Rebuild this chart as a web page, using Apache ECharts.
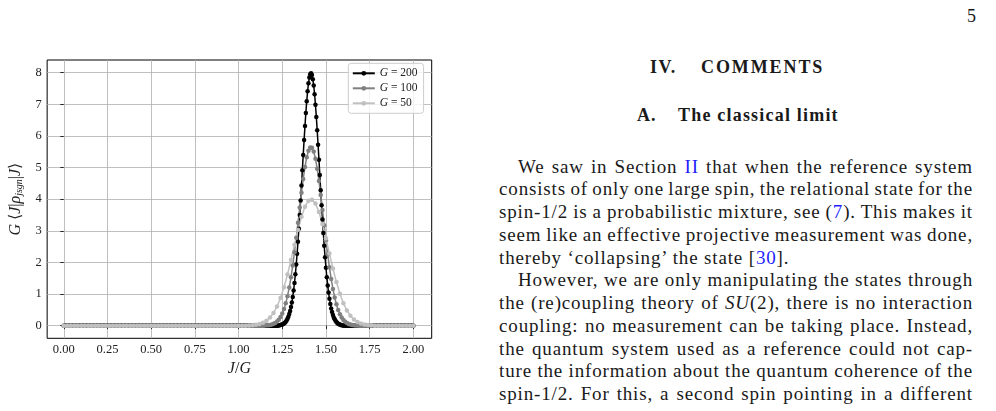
<!DOCTYPE html>
<html>
<head>
<meta charset="utf-8">
<script src="https://cdn.jsdelivr.net/npm/echarts@6/dist/echarts.min.js"></script>
<style>
  html, body { margin: 0; padding: 0; background: #fff; }
  #page { position: relative; width: 996px; height: 411px; overflow: hidden; font-family: "Liberation Serif", serif; color: #1a1a1a; }
  #chart { position: absolute; left: 0; top: 0; width: 460px; height: 411px; }
  .ln { position: absolute; white-space: nowrap; display: inline-block; font-size: 19px; letter-spacing: 0.85px; line-height: 22px; }
  .hd { position: absolute; white-space: nowrap; font-weight: bold; font-size: 18px; line-height: 20px; }
  .ref { color: #1f1fff; }
  i { font-style: italic; }
</style>
</head>
<body>
<div id="page">
  <div id="chart"></div>

  <div class="ln" style="left:967px;top:5px;font-size:18px;letter-spacing:0">5</div>
  <div class="hd" style="left:650px;top:57px;letter-spacing:1.5px;">IV.</div>
  <div class="hd" style="left:701px;top:57px;letter-spacing:1.9px;">COMMENTS</div>
  <div class="hd" style="left:637px;top:105px;letter-spacing:1px;">A.</div>
  <div class="hd" style="left:678px;top:105px;letter-spacing:1.2px;">The classical limit</div>

  <div class="ln j" data-l="518" style="left:518px;top:155.5px;">We saw in Section <span class="ref">II</span> that when the reference system</div>
  <div class="ln j" data-l="499" style="left:499px;top:178.2px;">consists of only one large spin, the relational state for the</div>
  <div class="ln j" data-l="499" style="left:499px;top:201px;">spin-1/2 is a probabilistic mixture, see (<span class="ref">7</span>). This makes it</div>
  <div class="ln j" data-l="499" style="left:499px;top:223.7px;">seem like an effective projective measurement was done,</div>
  <div class="ln" style="left:499px;top:246.5px;">thereby ‘collapsing’ the state [<span class="ref">30</span>].</div>

  <div class="ln j" data-l="518" style="left:518px;top:269.2px;">However, we are only manipulating the states through</div>
  <div class="ln j" data-l="499" style="left:499px;top:292px;">the (re)coupling theory of <i>SU</i>(2), there is no interaction</div>
  <div class="ln j" data-l="499" style="left:499px;top:314.7px;">coupling: no measurement can be taking place. Instead,</div>
  <div class="ln j" data-l="499" style="left:499px;top:337.5px;">the quantum system used as a reference could not cap-</div>
  <div class="ln j" data-l="499" style="left:499px;top:360.2px;">ture the information about the quantum coherence of the</div>
  <div class="ln j" data-l="499" style="left:499px;top:383px;">spin-1/2. For this, a second spin pointing in a different</div>
</div>

<script>
// curve sizes and legend names
const G_LIST = [200, 100, 50];
const NAMES = ['G = 200', 'G = 100', 'G = 50'];

// non-zero part of each curve: value at J = START + i, plotted at J/G
const START_200 = 246;
const PEAK_200 = [
  0.0090, 0.0130, 0.0185, 0.0260, 0.0363, 0.0502, 0.0686, 0.0930, 0.1247, 0.1656,
  0.2176, 0.2831, 0.3649, 0.4653, 0.5878, 0.7349, 0.9096, 1.115, 1.352, 1.625,
  1.932, 2.276, 2.653, 3.062, 3.499, 3.958, 4.434, 4.917, 5.399, 5.868,
  6.315, 6.728, 7.097, 7.412, 7.664, 7.845, 7.951, 7.978, 7.925, 7.795,
  7.590, 7.318, 6.985, 6.600, 6.175, 5.719, 5.245, 4.762, 4.281, 3.809,
  3.357, 2.928, 2.529, 2.162, 1.830, 1.534, 1.273, 1.046, 0.8506, 0.6852,
  0.5460, 0.4309, 0.3367, 0.2605, 0.1996, 0.1514, 0.1136, 0.0845, 0.0622, 0.0453,
  0.0327, 0.0233, 0.0165, 0.0116, 0.0080
];
const START_100 = 115;
const PEAK_100 = [
  0.0052, 0.0088, 0.0145, 0.0234, 0.0370, 0.0574, 0.0872, 0.1299, 0.1896, 0.2713,
  0.3807, 0.5232, 0.705, 0.932, 1.206, 1.531, 1.905, 2.323, 2.777, 3.253,
  3.736, 4.206, 4.641, 5.019, 5.321, 5.529, 5.632, 5.623, 5.503, 5.279,
  4.963, 4.575, 4.132, 3.659, 3.176, 2.702, 2.253, 1.843, 1.476, 1.159,
  0.893, 0.673, 0.498, 0.361, 0.2565, 0.1787, 0.1220, 0.0817, 0.0536, 0.0344,
  0.0217, 0.0134, 0.0081, 0.0048
];
const START_50 = 53;
const PEAK_50 = [
  0.0075, 0.0150, 0.0286, 0.0526, 0.0930, 0.1577, 0.2570, 0.4022, 0.605, 0.875,
  1.215, 1.621, 2.078, 2.560, 3.029, 3.444, 3.762, 3.949, 3.982, 3.859,
  3.592, 3.212, 2.760, 2.279, 1.808, 1.378, 1.009, 0.710, 0.480, 0.312,
  0.1946, 0.1167, 0.0672, 0.0371, 0.0198, 0.0101
];

const X_TICKS = [0, 0.25, 0.5, 0.75, 1, 1.25, 1.5, 1.75, 2];
const Y_TICKS = [0, 1, 2, 3, 4, 5, 6, 7, 8];

// J runs 0..2G; outside the listed peak the value is 0
function curve(G, start, peak) {
  let out = [];
  for (let J = 0; J <= 2 * G; J++) {
    let k = J - start;
    out.push([J / G, (k >= 0 && k < peak.length) ? peak[k] : 0]);
  }
  return out;
}
const curves = [
  curve(G_LIST[0], START_200, PEAK_200),
  curve(G_LIST[1], START_100, PEAK_100),
  curve(G_LIST[2], START_50, PEAK_50)
];
const colors = ['#000000', '#808080', '#c0c0c0'];

const FONT = 'Liberation Serif';
let chart = echarts.init(document.getElementById('chart'), null, { renderer: 'canvas' });
let option = {
  animation: false,
  grid: {
    left: 38.3, top: 60, width: 393.4, height: 278.3,
    show: true, borderColor: '#000', borderWidth: 1, backgroundColor: 'transparent'
  },
  xAxis: {
    type: 'value', min: -0.095, max: 2.105,
    axisLine: { show: false },
    axisTick: { show: true, length: 3.5, lineStyle: { color: '#000', width: 0.8 }, customValues: X_TICKS },
    axisLabel: { customValues: X_TICKS, margin: 5, fontFamily: FONT, fontSize: 12.5, color: '#222',
      formatter: v => v.toFixed(2) },
    splitLine: { show: true, lineStyle: { color: '#b0b0b0', width: 0.8 } },
    name: '{i|J}/{i|G}', nameLocation: 'middle', nameGap: 19,
    nameTextStyle: { fontFamily: FONT, fontSize: 16, color: '#222',
      rich: { i: { fontFamily: FONT, fontStyle: 'italic', fontSize: 16, color: '#222' } } }
  },
  yAxis: {
    type: 'value', min: -0.4, max: 8.4,
    axisLine: { show: false },
    axisTick: { show: true, length: 3.5, lineStyle: { color: '#000', width: 0.8 }, customValues: Y_TICKS },
    axisLabel: { customValues: Y_TICKS, margin: 5.5, fontFamily: FONT, fontSize: 12.5, color: '#222' },
    splitLine: { show: true, lineStyle: { color: '#b0b0b0', width: 0.8 } },
    name: '{i|G} ⟨{i|J}|{i|ρ}{s|jsgn}|{i|J}⟩', nameLocation: 'middle', nameGap: 17,
    nameTextStyle: { fontFamily: FONT, fontSize: 16, color: '#222',
      rich: {
        i: { fontFamily: FONT, fontStyle: 'italic', fontSize: 16, color: '#222' },
        s: { fontFamily: FONT, fontStyle: 'italic', fontSize: 10, color: '#222', padding: [7, 0, 0, 0] }
      } }
  },
  legend: {
    orient: 'vertical', left: 348.3, top: 63.3,
    padding: [4, 6, 4, 3.5], itemGap: 3, itemWidth: 22, itemHeight: 6,
    backgroundColor: 'rgba(255,255,255,0.8)', borderColor: '#cccccc', borderWidth: 1, borderRadius: 3,
    data: NAMES,
    formatter: n => '{i|G}' + n.slice(1),
    textStyle: { fontFamily: FONT, fontSize: 11.5, color: '#222',
      rich: { i: { fontFamily: FONT, fontStyle: 'italic', fontSize: 11.5, color: '#222' } } }
  },
  series: curves.map((d, i) => ({
    name: NAMES[i],
    type: 'line',
    data: d,
    color: colors[i],
    symbol: 'circle',
    symbolSize: 4.5,
    showAllSymbol: true,
    lineStyle: { width: 1.5, color: colors[i] },
    itemStyle: { color: colors[i] },
    emphasis: { disabled: true }
  }))
};
chart.setOption(option);

// stretch the justified lines to the column's right edge
const RIGHT = 973;
document.querySelectorAll('.j').forEach(el => {
  let left = parseFloat(el.dataset.l);
  let natural = el.getBoundingClientRect().width;
  let spaces = (el.textContent.match(/ /g) || []).length;
  if (spaces) el.style.wordSpacing = ((RIGHT - left - natural) / spaces) + 'px';
});
</script>
</body>
</html>
